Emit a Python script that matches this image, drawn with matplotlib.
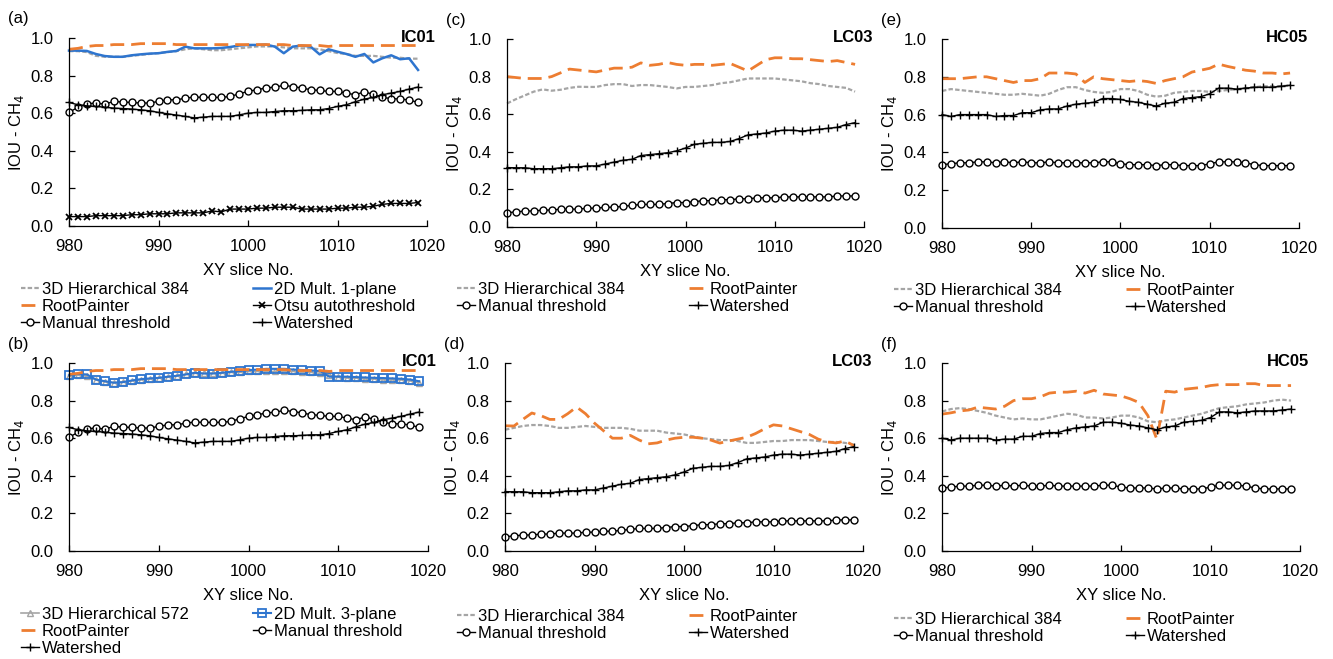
import matplotlib
matplotlib.use("Agg")
import matplotlib.pyplot as plt
from matplotlib.ticker import FormatStrFormatter

plt.rcParams['font.family'] = ['Liberation Sans', 'DejaVu Sans']
plt.rcParams['font.size'] = 12

slices = list(range(980, 1020))

# IC01 (panels a, b)
ic01_hier384 = [0.93, 0.93, 0.925, 0.905, 0.90, 0.90, 0.90, 0.905, 0.91, 0.915,
                0.92, 0.925, 0.93, 0.94, 0.945, 0.94, 0.935, 0.935, 0.94, 0.945,
                0.95, 0.955, 0.955, 0.955, 0.95, 0.945, 0.945, 0.945, 0.94, 0.93,
                0.92, 0.915, 0.905, 0.905, 0.905, 0.90, 0.895, 0.895, 0.89, 0.89]
ic01_mult1 = [0.933, 0.933, 0.931, 0.915, 0.904, 0.90, 0.90, 0.908, 0.913, 0.917,
              0.919, 0.926, 0.931, 0.954, 0.945, 0.945, 0.945, 0.947, 0.952, 0.96,
              0.963, 0.963, 0.965, 0.954, 0.919, 0.954, 0.96, 0.954, 0.913, 0.94,
              0.927, 0.915, 0.90, 0.915, 0.87, 0.892, 0.908, 0.887, 0.892, 0.83]
ic01_rootpainter = [0.94, 0.945, 0.955, 0.96, 0.96, 0.965, 0.965, 0.965, 0.97, 0.97,
                    0.97, 0.97, 0.965, 0.965, 0.965, 0.965, 0.965, 0.965, 0.965, 0.965,
                    0.965, 0.965, 0.965, 0.965, 0.965, 0.96, 0.96, 0.96, 0.96, 0.955,
                    0.96, 0.96, 0.96, 0.96, 0.96, 0.96, 0.96, 0.96, 0.96, 0.96]
ic01_otsu = [0.05, 0.05, 0.05, 0.055, 0.055, 0.055, 0.055, 0.06, 0.06, 0.065,
             0.065, 0.065, 0.07, 0.07, 0.07, 0.07, 0.08, 0.075, 0.09, 0.09,
             0.09, 0.095, 0.095, 0.10, 0.10, 0.10, 0.09, 0.09, 0.09, 0.09,
             0.095, 0.095, 0.10, 0.10, 0.105, 0.115, 0.12, 0.12, 0.12, 0.125]
ic01_manual = [0.604, 0.632, 0.65, 0.654, 0.648, 0.663, 0.659, 0.657, 0.654, 0.654,
               0.663, 0.671, 0.671, 0.68, 0.686, 0.684, 0.684, 0.684, 0.689, 0.703,
               0.716, 0.725, 0.734, 0.739, 0.748, 0.742, 0.734, 0.725, 0.721, 0.716,
               0.716, 0.707, 0.698, 0.714, 0.70, 0.684, 0.678, 0.675, 0.671, 0.657]
ic01_watershed = [0.657, 0.645, 0.639, 0.636, 0.632, 0.627, 0.625, 0.622, 0.618, 0.613,
                  0.604, 0.597, 0.59, 0.583, 0.575, 0.579, 0.583, 0.583, 0.583, 0.591,
                  0.60, 0.604, 0.604, 0.609, 0.613, 0.613, 0.615, 0.618, 0.618, 0.625,
                  0.636, 0.645, 0.661, 0.675, 0.684, 0.698, 0.707, 0.716, 0.728, 0.739]
ic01_hier572 = [0.93, 0.935, 0.93, 0.91, 0.90, 0.895, 0.90, 0.905, 0.91, 0.915,
                0.92, 0.925, 0.93, 0.94, 0.945, 0.945, 0.945, 0.945, 0.95, 0.95,
                0.955, 0.955, 0.955, 0.955, 0.955, 0.955, 0.95, 0.95, 0.945, 0.935,
                0.925, 0.92, 0.92, 0.915, 0.915, 0.91, 0.91, 0.91, 0.905, 0.895]
ic01_mult3 = [0.935, 0.942, 0.939, 0.912, 0.903, 0.895, 0.898, 0.907, 0.914, 0.918,
              0.921, 0.927, 0.932, 0.939, 0.948, 0.944, 0.944, 0.948, 0.953, 0.957,
              0.962, 0.965, 0.969, 0.969, 0.969, 0.965, 0.963, 0.96, 0.957, 0.927,
              0.928, 0.927, 0.925, 0.923, 0.921, 0.92, 0.918, 0.916, 0.912, 0.903]

# LC03 (panels c, d)
lc03_hier384_c = [0.657, 0.68, 0.70, 0.72, 0.732, 0.725, 0.73, 0.74, 0.746, 0.745,
                  0.745, 0.755, 0.76, 0.76, 0.75, 0.755, 0.755, 0.75, 0.745, 0.737,
                  0.745, 0.745, 0.75, 0.755, 0.765, 0.77, 0.78, 0.79, 0.79, 0.79,
                  0.79, 0.785, 0.78, 0.775, 0.765, 0.76, 0.75, 0.745, 0.74, 0.72]
lc03_rootpainter_c = [0.80, 0.795, 0.79, 0.79, 0.79, 0.80, 0.82, 0.84, 0.835, 0.83,
                      0.825, 0.835, 0.845, 0.845, 0.85, 0.873, 0.86, 0.865, 0.875, 0.865,
                      0.86, 0.865, 0.865, 0.86, 0.865, 0.87, 0.85, 0.83, 0.86, 0.89,
                      0.90, 0.90, 0.895, 0.895, 0.89, 0.885, 0.88, 0.885, 0.875, 0.865]
lc03_hier384_d = [0.645, 0.655, 0.665, 0.67, 0.67, 0.665, 0.655, 0.655, 0.66, 0.665,
                  0.66, 0.655, 0.655, 0.655, 0.65, 0.64, 0.64, 0.64, 0.63, 0.625,
                  0.62, 0.61, 0.60, 0.595, 0.59, 0.59, 0.585, 0.575, 0.575, 0.58,
                  0.585, 0.585, 0.59, 0.59, 0.59, 0.585, 0.58, 0.58, 0.575, 0.565]
lc03_rootpainter_d = [0.666, 0.665, 0.70, 0.734, 0.72, 0.70, 0.70, 0.73, 0.766, 0.73,
                      0.68, 0.64, 0.60, 0.60, 0.615, 0.59, 0.57, 0.575, 0.59, 0.60,
                      0.605, 0.605, 0.60, 0.59, 0.574, 0.585, 0.595, 0.605, 0.625, 0.65,
                      0.671, 0.665, 0.65, 0.635, 0.62, 0.595, 0.58, 0.575, 0.585, 0.56]
lc03_manual = [0.076, 0.08, 0.085, 0.085, 0.09, 0.09, 0.095, 0.095, 0.095, 0.10,
               0.10, 0.105, 0.105, 0.11, 0.115, 0.12, 0.12, 0.12, 0.125, 0.13,
               0.13, 0.135, 0.14, 0.14, 0.145, 0.145, 0.15, 0.15, 0.155, 0.155,
               0.155, 0.16, 0.16, 0.16, 0.16, 0.16, 0.16, 0.165, 0.165, 0.165]
lc03_watershed = [0.316, 0.315, 0.315, 0.31, 0.31, 0.31, 0.315, 0.32, 0.32, 0.325,
                  0.325, 0.335, 0.345, 0.355, 0.36, 0.38, 0.385, 0.39, 0.395, 0.405,
                  0.42, 0.44, 0.445, 0.45, 0.45, 0.455, 0.47, 0.49, 0.495, 0.50,
                  0.51, 0.515, 0.515, 0.51, 0.515, 0.52, 0.525, 0.53, 0.545, 0.555]

# HC05 (panels e, f)
hc05_hier384_e = [0.725, 0.735, 0.73, 0.725, 0.72, 0.715, 0.71, 0.705, 0.705, 0.71,
                  0.705, 0.70, 0.71, 0.73, 0.745, 0.745, 0.73, 0.72, 0.715, 0.72,
                  0.735, 0.735, 0.725, 0.705, 0.695, 0.70, 0.715, 0.72, 0.725, 0.725,
                  0.72, 0.725, 0.73, 0.735, 0.74, 0.745, 0.75, 0.75, 0.75, 0.755]
hc05_rootpainter_e = [0.79, 0.79, 0.79, 0.795, 0.80, 0.80, 0.79, 0.78, 0.77, 0.78,
                      0.78, 0.79, 0.82, 0.82, 0.82, 0.815, 0.77, 0.80, 0.79, 0.785,
                      0.78, 0.775, 0.78, 0.775, 0.765, 0.78, 0.79, 0.80, 0.825, 0.835,
                      0.845, 0.867, 0.855, 0.845, 0.835, 0.83, 0.82, 0.82, 0.815, 0.82]
hc05_hier384_f = [0.742, 0.755, 0.76, 0.755, 0.745, 0.735, 0.72, 0.71, 0.70, 0.705,
                  0.70, 0.70, 0.71, 0.72, 0.73, 0.725, 0.71, 0.71, 0.705, 0.71,
                  0.72, 0.72, 0.71, 0.69, 0.685, 0.695, 0.70, 0.71, 0.72, 0.73,
                  0.745, 0.76, 0.765, 0.77, 0.78, 0.785, 0.79, 0.80, 0.805, 0.80]
hc05_rootpainter_f = [0.728, 0.735, 0.745, 0.75, 0.765, 0.76, 0.755, 0.77, 0.80, 0.81,
                      0.81, 0.82, 0.84, 0.845, 0.845, 0.85, 0.84, 0.855, 0.835, 0.83,
                      0.825, 0.81, 0.79, 0.72, 0.595, 0.85, 0.845, 0.86, 0.865, 0.87,
                      0.88, 0.885, 0.885, 0.885, 0.89, 0.89, 0.88, 0.88, 0.88, 0.88]
hc05_manual = [0.335, 0.34, 0.345, 0.345, 0.35, 0.35, 0.345, 0.35, 0.345, 0.35,
               0.345, 0.345, 0.35, 0.345, 0.345, 0.345, 0.345, 0.345, 0.35, 0.35,
               0.34, 0.335, 0.335, 0.335, 0.33, 0.335, 0.335, 0.33, 0.33, 0.33,
               0.34, 0.35, 0.35, 0.35, 0.345, 0.335, 0.33, 0.33, 0.33, 0.33]
hc05_watershed = [0.60, 0.59, 0.60, 0.60, 0.60, 0.60, 0.59, 0.595, 0.595, 0.61,
                  0.61, 0.625, 0.63, 0.63, 0.645, 0.655, 0.66, 0.665, 0.685, 0.685,
                  0.68, 0.67, 0.665, 0.655, 0.645, 0.66, 0.665, 0.685, 0.69, 0.695,
                  0.71, 0.74, 0.74, 0.735, 0.74, 0.745, 0.745, 0.745, 0.75, 0.755]

GREY = "#A5A5A5"
BLUE = "#2E75CF"
ORANGE = "#ED7D31"
styles = {
    "3D Hierarchical 384": dict(color=GREY, lw=1.6, dashes=(2, 1)),
    "3D Hierarchical 572": dict(color=GREY, lw=1.2, marker="^", ms=5, mfc="none", mew=1),
    "2D Mult. 1-plane": dict(color=BLUE, lw=1.8),
    "2D Mult. 3-plane": dict(color=BLUE, lw=1.5, marker="s", ms=5.5, mfc="none", mew=1.3),
    "RootPainter": dict(color=ORANGE, lw=2, dashes=(5, 2.5)),
    "Otsu autothreshold": dict(color="black", lw=1, marker="x", ms=4.5, mew=1.3),
    "Manual threshold": dict(color="black", lw=1, marker="o", ms=5, mfc="white", mew=1),
    "Watershed": dict(color="black", lw=1, marker="+", ms=6, mew=1),
}

W, H = 1333, 659

def px_rect(l, t, r, b):
    return [l / W, 1 - b / H, (r - l) / W, (b - t) / H]

# (letter, sample, axes box in px, series, legend col x, legend top y)
panels = [
    ("(a)", "IC01", (69, 38, 427, 226),
     [("3D Hierarchical 384", ic01_hier384), ("2D Mult. 1-plane", ic01_mult1),
      ("RootPainter", ic01_rootpainter), ("Otsu autothreshold", ic01_otsu),
      ("Manual threshold", ic01_manual), ("Watershed", ic01_watershed)],
     (21, 253), 282),
    ("(b)", "IC01", (69, 363, 428, 551),
     [("3D Hierarchical 572", ic01_hier572), ("2D Mult. 3-plane", ic01_mult3),
      ("RootPainter", ic01_rootpainter), ("Manual threshold", ic01_manual),
      ("Watershed", ic01_watershed)],
     (21, 253), 607),
    ("(c)", "LC03", (507, 39, 864, 227),
     [("3D Hierarchical 384", lc03_hier384_c), ("RootPainter", lc03_rootpainter_c),
      ("Manual threshold", lc03_manual), ("Watershed", lc03_watershed)],
     (457, 689), 282),
    ("(d)", "LC03", (505, 363, 863, 551),
     [("3D Hierarchical 384", lc03_hier384_d), ("RootPainter", lc03_rootpainter_d),
      ("Manual threshold", lc03_manual), ("Watershed", lc03_watershed)],
     (457, 689), 609),
    ("(e)", "HC05", (942, 39, 1299, 228),
     [("3D Hierarchical 384", hc05_hier384_e), ("RootPainter", hc05_rootpainter_e),
      ("Manual threshold", hc05_manual), ("Watershed", hc05_watershed)],
     (894, 1126), 283),
    ("(f)", "HC05", (942, 363, 1300, 551),
     [("3D Hierarchical 384", hc05_hier384_f), ("RootPainter", hc05_rootpainter_f),
      ("Manual threshold", hc05_manual), ("Watershed", hc05_watershed)],
     (894, 1126), 612),
]

fig = plt.figure(figsize=(W / 100, H / 100), dpi=100)

for letter, sample, box, series, leg_x, leg_y in panels:
    ax = fig.add_axes(px_rect(*box))
    lines = []
    for name, vals in series:
        ln, = ax.plot(slices, vals, label=name, clip_on=False, **styles[name])
        lines.append(ln)
    ax.set_xlim(980, 1020)
    ax.set_ylim(0, 1.0)
    ax.set_xticks([980, 990, 1000, 1010, 1020])
    ax.set_yticks([0, 0.2, 0.4, 0.6, 0.8, 1.0])
    ax.yaxis.set_major_formatter(FormatStrFormatter("%.1f"))
    for s in ["top", "right"]:
        ax.spines[s].set_visible(False)
    for s in ["left", "bottom"]:
        ax.spines[s].set_linewidth(0.9)
    ax.tick_params(axis="both", direction="in", length=4, width=0.9, labelsize=12)
    ax.tick_params(axis="x", pad=9)
    ax.tick_params(axis="y", pad=11)
    ax.set_xlabel("XY slice No.", fontsize=12, labelpad=7)
    ax.set_ylabel("IOU - CH$_4$", fontsize=12, labelpad=3)
    l, t, r, b = box
    fig.text((l - 61) / W, 1 - (t - 19) / H, letter, fontsize=12, va="center", ha="left")
    fig.text((r + 9) / W, 1 - (t - 1) / H, sample, fontsize=12, fontweight="bold",
             va="center", ha="right")
    # two legend columns, filled row by row like the original
    for col, x in enumerate(leg_x):
        fig.legend(handles=lines[col::2], loc="upper left",
                   bbox_to_anchor=(x / W, 1 - leg_y / H), frameon=False,
                   borderpad=0, borderaxespad=0, handlelength=1.1,
                   handletextpad=0.15, labelspacing=0.12, fontsize=12, numpoints=1)

fig.savefig("out.png", dpi=100)
